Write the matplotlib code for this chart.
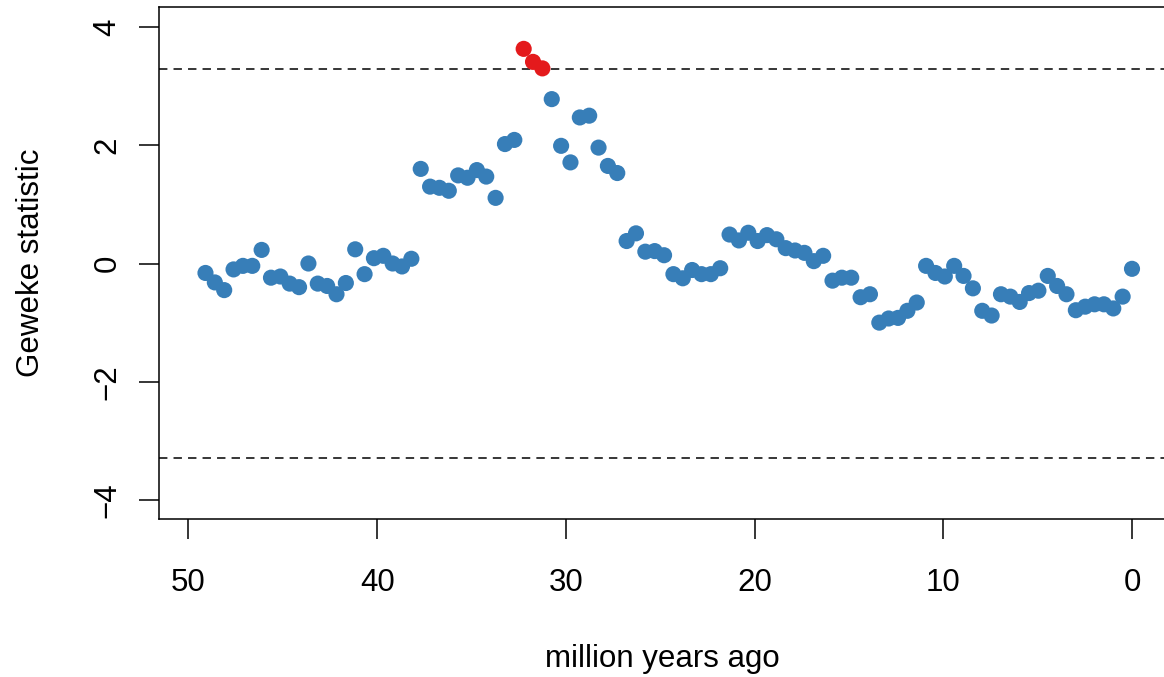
import numpy as np
import matplotlib
matplotlib.use("Agg")
import matplotlib.pyplot as plt

# Geweke statistic per time bin, oldest to youngest
geweke = [
    -0.16, -0.32, -0.45, -0.10, -0.04, -0.04, 0.23, -0.24, -0.22, -0.34,
    -0.40, 0.00, -0.34, -0.38, -0.52, -0.33, 0.24, -0.18, 0.09, 0.13,
    0.00, -0.05, 0.08, 1.60, 1.30, 1.28, 1.23, 1.49, 1.45, 1.58,
    1.47, 1.11, 2.02, 2.09, 3.63, 3.41, 3.30, 2.78, 1.99, 1.71,
    2.47, 2.50, 1.96, 1.65, 1.53, 0.38, 0.51, 0.20, 0.21, 0.14,
    -0.18, -0.25, -0.11, -0.18, -0.18, -0.08, 0.49, 0.39, 0.52, 0.38,
    0.48, 0.41, 0.26, 0.22, 0.18, 0.04, 0.13, -0.29, -0.24, -0.24,
    -0.57, -0.52, -1.00, -0.93, -0.92, -0.80, -0.66, -0.04, -0.16, -0.22,
    -0.04, -0.21, -0.42, -0.80, -0.88, -0.52, -0.56, -0.65, -0.50, -0.46,
    -0.21, -0.38, -0.52, -0.79, -0.73, -0.69, -0.69, -0.76, -0.56, -0.09,
]
ages = np.linspace(49.1, 0.0, len(geweke))  # million years ago
threshold = 3.29
xticks = [50, 40, 30, 20, 10, 0]
yticks = [-4, -2, 0, 2, 4]

blue = "#377EB8"
red = "#E41A1C"

plt.rcParams["font.family"] = ["Liberation Sans", "DejaVu Sans"]

W, H = 1164, 677
fig = plt.figure(figsize=(W / 100, H / 100), dpi=100)
# axes box in pixels: left 159, right 1166 (clipped), top 7, bottom 519
ax = fig.add_axes([159 / W, 1 - 519 / H, (1166 - 159) / W, (519 - 7) / H])

g = np.array(geweke)
cols = np.where(np.abs(g) >= threshold, red, blue)
ax.scatter(ages, g, s=135, c=cols, linewidths=0, zorder=3)

ax.axhline(threshold, color="black", lw=1.1, ls=(0, (5.5, 4)))
ax.axhline(-threshold, color="black", lw=1.1, ls=(0, (5.5, 4)))

ax.set_xlim(51.563, -1.802)
ax.set_ylim(-4.321, 4.338)
ax.set_xticks(xticks)
ax.set_yticks(yticks)
ax.set_yticklabels([str(v).replace("-", "\u2212") for v in yticks],
                   rotation=90, va="center")

for s in ax.spines.values():
    s.set_linewidth(1.1)
ax.tick_params(direction="out", length=14.4, width=1.1, labelsize=22.5)
ax.tick_params(axis="x", pad=21)
ax.tick_params(axis="y", pad=12)

ax.set_xlabel("million years ago", fontsize=22.5, labelpad=33)
ax.set_ylabel("Geweke statistic", fontsize=22.5, labelpad=33)

fig.savefig("out.png", dpi=100)
